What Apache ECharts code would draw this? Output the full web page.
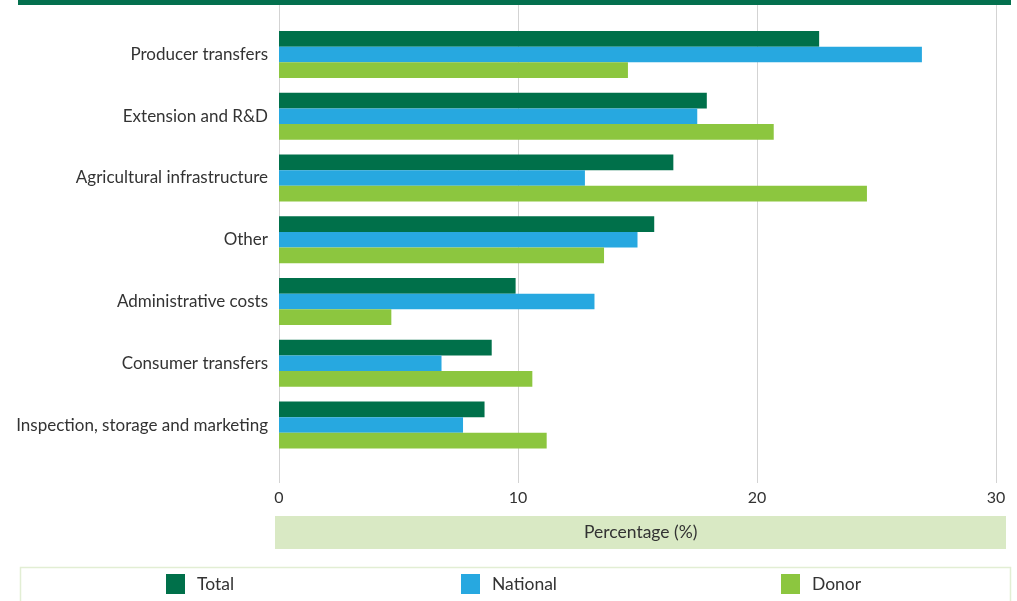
<!DOCTYPE html>
<html>
<head>
<meta charset="utf-8">
<script src="https://cdn.jsdelivr.net/npm/echarts@6/dist/echarts.min.js"></script>
<style>
  html, body { margin: 0; padding: 0; background: #ffffff; }
  #chart { width: 1017px; height: 601px; }
</style>
</head>
<body>
<div id="chart"></div>
<script>
// Share of agricultural public expenditure by category and funding source
const categories = [
  'Producer transfers',
  'Extension and R&D',
  'Agricultural infrastructure',
  'Other',
  'Administrative costs',
  'Consumer transfers',
  'Inspection, storage and marketing'
];
const totalValues    = [22.6, 17.9, 16.5, 15.7, 9.9, 8.9, 8.6];
const nationalValues = [26.9, 17.5, 12.8, 15.0, 13.2, 6.8, 7.7];
const donorValues    = [14.6, 20.7, 24.6, 13.6, 4.7, 10.6, 11.2];
const seriesNames = ['Total', 'National', 'Donor'];
const xTicks = [0, 10, 20, 30];
const axisTitle = 'Percentage (%)';

const FONT = 'Lato';
const TEXT = '#333333';
const COLORS = ['#00704a', '#27a8e0', '#8cc63f'];

const chart = echarts.init(document.getElementById('chart'), null, { renderer: 'canvas' });

const xMin = xTicks[0];
const xMax = xTicks[xTicks.length - 1];
const xStep = xTicks[1] - xTicks[0];

function makeLegend(name, left) {
  return {
    data: [name],
    left: left,
    top: 569,
    itemWidth: 19,
    itemHeight: 20,
    icon: 'rect',
    selectedMode: false,
    textStyle: { fontFamily: FONT, fontSize: 17.5, color: TEXT, padding: [0, 0, 0, 7] }
  };
}

const option = {
  animation: false,
  backgroundColor: '#ffffff',
  color: COLORS,
  legend: [
    makeLegend(seriesNames[0], 161),
    makeLegend(seriesNames[1], 456),
    makeLegend(seriesNames[2], 776)
  ],
  grid: [
    // gridlines and tick labels
    { left: 279, right: 21, top: 5, bottom: 118 },
    // bars
    { left: 279, right: 21, top: 23.6, bottom: 145.1 }
  ],
  xAxis: [
    {
      gridIndex: 0, type: 'value', min: xMin, max: xMax, interval: xStep,
      axisLine: { show: false }, axisTick: { show: false },
      axisLabel: { fontFamily: FONT, fontSize: 16, color: TEXT, margin: 7 },
      splitLine: { show: true, lineStyle: { color: '#d3d3d3', width: 1 } }
    },
    {
      gridIndex: 1, type: 'value', min: xMin, max: xMax, interval: xStep,
      show: false, splitLine: { show: false }
    }
  ],
  yAxis: [
    {
      gridIndex: 0, type: 'category', data: categories, show: false
    },
    {
      gridIndex: 1, type: 'category', data: categories, inverse: true,
      axisLine: { show: false }, axisTick: { show: false },
      axisLabel: { fontFamily: FONT, fontSize: 17, color: TEXT, margin: 11 }
    }
  ],
  series: [
    { name: seriesNames[0], type: 'bar', xAxisIndex: 1, yAxisIndex: 1, data: totalValues, barWidth: 15.67, barGap: '0%' },
    { name: seriesNames[1], type: 'bar', xAxisIndex: 1, yAxisIndex: 1, data: nationalValues, barWidth: 15.67, barGap: '0%' },
    { name: seriesNames[2], type: 'bar', xAxisIndex: 1, yAxisIndex: 1, data: donorValues, barWidth: 15.67, barGap: '0%' }
  ],
  graphic: [
    // header strip
    { type: 'rect', left: 18, top: 0, shape: { width: 993, height: 5 }, style: { fill: '#04704e' }, z: 10 },
    // axis title band
    { type: 'rect', left: 275, top: 516, shape: { width: 731, height: 33 }, style: { fill: '#d9e9c4' }, z: 1 },
    {
      type: 'text', left: 'center', top: 523, z: 2,
      style: { text: axisTitle, fontFamily: FONT, fontSize: 17.5, fill: TEXT }
    },
    // legend frame
    { type: 'rect', left: 18, top: 565, shape: { width: 990, height: 45 }, style: { fill: 'none', stroke: '#e2eed4', lineWidth: 1.5 }, z: 0 }
  ]
};

chart.setOption(option);

// centre the axis title over its band
const band = { x: 275, w: 731 };
const probe = new echarts.graphic.Text({ style: { text: axisTitle, fontFamily: FONT, fontSize: 17.5 } });
const tw = probe.getBoundingRect().width;
option.graphic[2].left = Math.round(band.x + band.w / 2 - tw / 2);
chart.setOption({ graphic: option.graphic });
</script>
</body>
</html>
